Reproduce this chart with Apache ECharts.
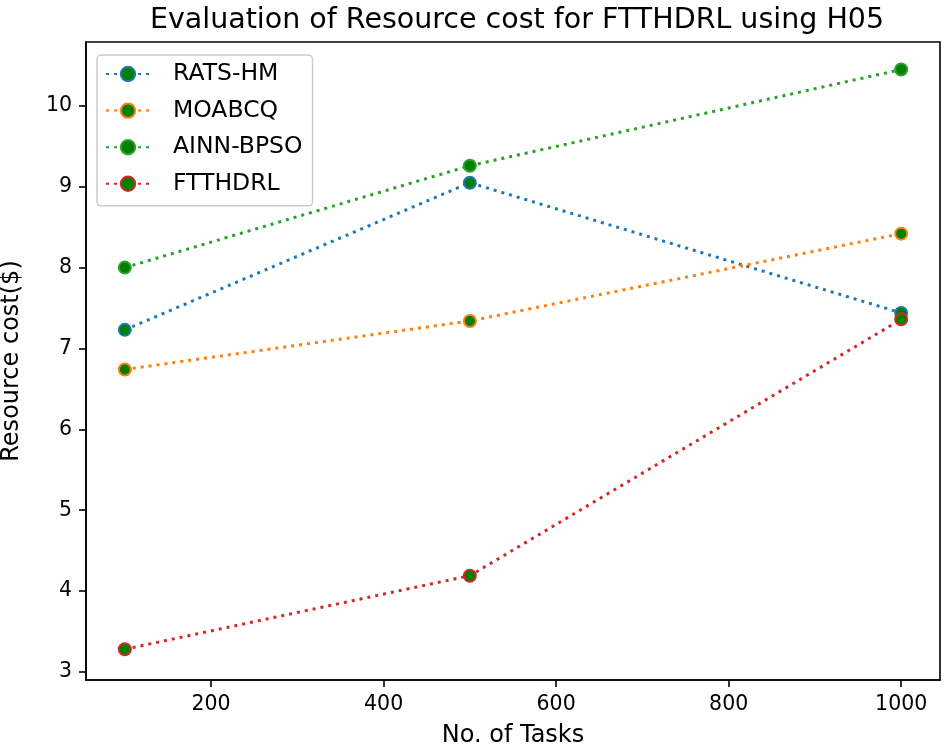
<!DOCTYPE html>
<html>
<head>
<meta charset="utf-8">
<script src="https://cdn.jsdelivr.net/npm/echarts@6/dist/echarts.min.js"></script>
<style>html,body{margin:0;padding:0;background:#fff}#c{width:944px;height:750px}</style>
</head>
<body>
<div id="c"></div>
<script>
const tasks = [100, 500, 1000];
const ratsHM = [7.23, 9.05, 7.44];
const moabcq = [6.74, 7.34, 8.42];
const ainnBpso = [8.00, 9.26, 10.45];
const ftthdrl = [3.28, 4.19, 7.36];
const xTicks = [200, 400, 600, 800, 1000];
const yTicks = [3, 4, 5, 6, 7, 8, 9, 10];

const names = ['RATS-HM', 'MOABCQ', 'AINN-BPSO', 'FTTHDRL'];
const colors = ['#1f77b4', '#ff7f0e', '#2ca02c', '#d62728'];
const values = [ratsHM, moabcq, ainnBpso, ftthdrl];
const font = 'DejaVu Sans';

const series = names.map((n, i) => ({
  name: n,
  type: 'line',
  data: tasks.map((t, j) => [t, values[i][j]]),
  symbol: 'circle',
  symbolSize: 12,
  lineStyle: { color: colors[i], width: 3, type: [3, 5] },
  itemStyle: { color: '#008000', borderColor: colors[i], borderWidth: 2 },
  emphasis: { disabled: true },
  animation: false
}));

const chart = echarts.init(document.getElementById('c'));
chart.setOption({
  animation: false,
  backgroundColor: '#fff',
  title: {
    text: 'Evaluation of Resource cost for FTTHDRL using H05',
    left: 512, top: 1, textAlign: 'center',
    textStyle: { fontFamily: font, fontSize: 28.5, fontWeight: 'normal', color: '#000' }
  },
  legend: {
    orient: 'vertical',
    left: 97, top: 55,
    padding: [7, 10, 10, 8],
    itemWidth: 44, itemHeight: 18, itemGap: 12.6,
    borderColor: '#cccccc', borderWidth: 1.5, borderRadius: 4,
    backgroundColor: 'rgba(255,255,255,0.8)',
    textStyle: { fontFamily: font, fontSize: 23.5, color: '#000', padding: [0, 0, 0, 18] },
    data: names
  },
  grid: { left: 86, right: 4, top: 42, bottom: 70, outerBoundsMode: 'none', containLabel: false,
    show: true, borderColor: '#000', borderWidth: 1.6, backgroundColor: 'transparent' },
  xAxis: {
    type: 'value', min: 55, max: 1045,
    name: 'No. of Tasks', nameLocation: 'middle', nameGap: 44,
    nameTextStyle: { fontFamily: font, fontSize: 24, color: '#000' },
    axisLine: { show: true, lineStyle: { color: '#000', width: 1.6 } },
    axisTick: { show: true, inside: false, length: 7, lineStyle: { color: '#000', width: 1.6 }, customValues: xTicks },
    axisLabel: { fontFamily: font, fontSize: 20.5, color: '#000', margin: 14, customValues: xTicks, formatter: v => String(v) },
    splitLine: { show: false }
  },
  yAxis: {
    type: 'value', min: 2.90, max: 10.79,
    name: 'Resource cost($)', nameLocation: 'middle', nameGap: 62, nameRotate: 90,
    nameTextStyle: { fontFamily: font, fontSize: 24, color: '#000' },
    axisLine: { show: true, lineStyle: { color: '#000', width: 1.6 } },
    axisTick: { show: true, inside: false, length: 7, lineStyle: { color: '#000', width: 1.6 }, customValues: yTicks },
    axisLabel: { fontFamily: font, fontSize: 20.5, color: '#000', margin: 14, customValues: yTicks, formatter: v => String(v) },
    splitLine: { show: false }
  },
  series: series
});
</script>
</body>
</html>
